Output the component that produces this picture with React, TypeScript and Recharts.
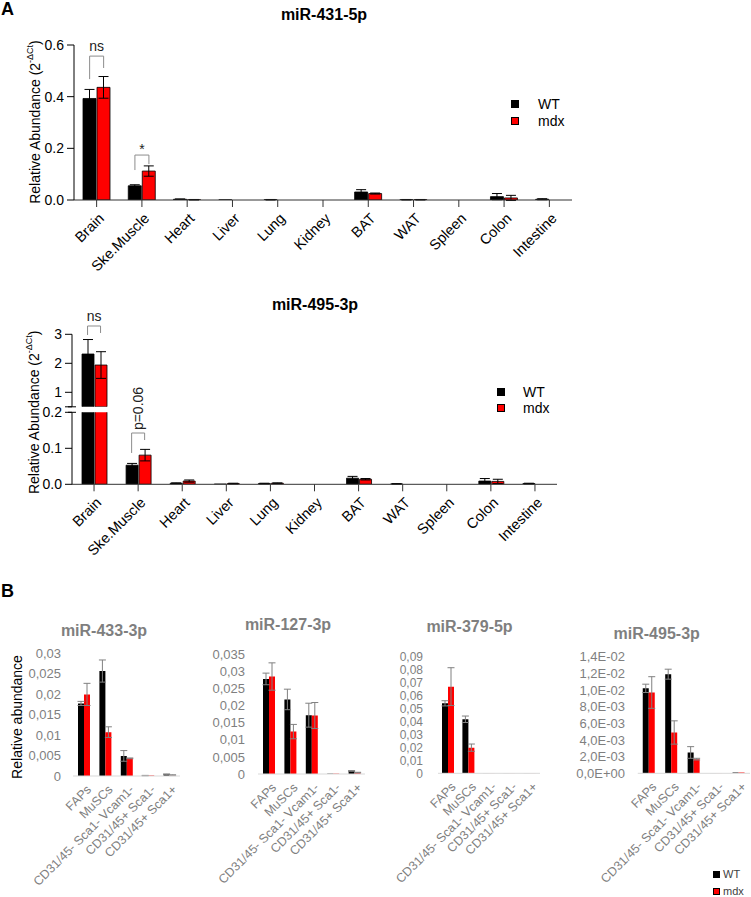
import React from 'react';
import { BarChart, Bar, XAxis, YAxis, ErrorBar, ReferenceLine, Legend } from 'recharts';

const FONT = '"Liberation Sans", Arial, Helvetica, sans-serif';
const RED = '#ff0000';

// ---------- Panel A data ----------
const tissues = ['Brain', 'Ske.Muscle', 'Heart', 'Liver', 'Lung', 'Kidney', 'BAT', 'WAT', 'Spleen', 'Colon', 'Intestine'];

const wt431 = [0.393, 0.055, 0.003, 0.0005, 0.001, 0, 0.031, 0.001, 0, 0.013, 0.003];
const wt431Err = [0.035, 0.004, 0.001, 0, 0.001, 0, 0.009, 0.001, 0, 0.012, 0.002];
const mdx431 = [0.436, 0.112, 0.001, 0, 0, 0, 0.025, 0.001, 0, 0.008, 0];
const mdx431Err = [0.042, 0.02, 0.001, 0, 0, 0, 0.002, 0.001, 0, 0.01, 0];
const ticks431 = [0, 0.2, 0.4, 0.6];

const wt495 = [2.32, 0.053, 0.003, 0.0005, 0.002, 0, 0.017, 0.001, 0, 0.009, 0.002];
const wt495Err = [0.5, 0.005, 0.001, 0, 0.001, 0, 0.005, 0.001, 0, 0.007, 0.001];
const mdx495 = [1.94, 0.081, 0.009, 0.002, 0.003, 0, 0.014, 0, 0, 0.008, 0];
const mdx495Err = [0.46, 0.016, 0.003, 0.001, 0.001, 0, 0.002, 0, 0, 0.006, 0];
const ticks495Upper = [0.5, 1, 2, 3];
const ticks495Lower = [0, 0.1, 0.2];

const sig431 = [
  { at: 0, text: 'ns', left: 0.468, top: 0.557, right: 0.511 },
  { at: 1, text: '*', left: 0.116, top: 0.174, right: 0.139 },
];
const sig495Upper = [{ at: 0, text: 'ns', left: 2.976, top: 3.286, right: 3.045 }];
const sig495Lower = [{ at: 1, text: 'p=0.06', left: 0.087, top: 0.1425, right: 0.123 }];

// ---------- Panel B data ----------
const cellTypes = ['FAPs', 'MuSCs', 'CD31/45- Sca1- Vcam1-', 'CD31/45+ Sca1-', 'CD31/45+ Sca1+'];

const wt433 = [0.0177, 0.0256, 0.0049, 0.0001, 0.0004];
const wt433Err = [0.0005, 0.0027, 0.0013, 0.00005, 0.0001];
const mdx433 = [0.0199, 0.0107, 0.0043, 0.0001, 0.0002];
const mdx433Err = [0.0027, 0.0013, 0.0001, 0, 0.0001];
const ticks433 = [0, 0.005, 0.01, 0.015, 0.02, 0.025, 0.03];

const wt127 = [0.0278, 0.0218, 0.0172, 0.0001, 0.0009];
const wt127Err = [0.0017, 0.003, 0.0035, 0, 0.0001];
const mdx127 = [0.0285, 0.0124, 0.0171, 0.0001, 0.0004];
const mdx127Err = [0.004, 0.0021, 0.0038, 0, 0.0001];
const ticks127 = [0, 0.005, 0.01, 0.015, 0.02, 0.025, 0.03, 0.035];

const wt379 = [0.054, 0.0417, 0.0002, 0.0002, 0.0002];
const wt379Err = [0.002, 0.0025, 0, 0, 0];
const mdx379 = [0.0669, 0.0198, 0.0002, 0.0002, 0.0002];
const mdx379Err = [0.0146, 0.0028, 0, 0, 0];
const ticks379 = [0, 0.01, 0.02, 0.03, 0.04, 0.05, 0.06, 0.07, 0.08, 0.09];

const wtB495 = [0.0102, 0.0119, 0.0025, 0.00005, 0.0001];
const wtB495Err = [0.0005, 0.0006, 0.0007, 0, 0];
const mdxB495 = [0.0097, 0.0049, 0.0017, 0.00005, 0.0001];
const mdxB495Err = [0.0019, 0.0014, 0.0001, 0, 0];
const ticksB495 = [0, 0.002, 0.004, 0.006, 0.008, 0.01, 0.012, 0.014];

const seriesColors: Record<string, string> = { WT: '#000000', mdx: RED };

const makeRows = (cats: string[], wt: number[], wtErr: number[], mdx: number[], mdxErr: number[]) =>
  cats.map((c, i) => ({ cat: c, wt: wt[i], wtErr: wtErr[i], mdx: mdx[i], mdxErr: mdxErr[i] }));

const rows431 = makeRows(tissues, wt431, wt431Err, mdx431, mdx431Err);
const rows495 = makeRows(tissues, wt495, wt495Err, mdx495, mdx495Err);
// the upper segment of the broken axis only shows the bars that reach it
const rows495Upper = rows495.map((r) => ({
  ...r,
  wt: r.wt >= ticks495Upper[0] ? r.wt : null,
  mdx: r.mdx >= ticks495Upper[0] ? r.mdx : null,
}));

// ---------- helpers ----------
const commaFmt = (v: number) => (v === 0 ? '0' : String(v).replace('.', ','));
const expFmt = (v: number) => {
  const [m, e] = v.toExponential(1).split('e');
  const n = parseInt(e, 10);
  return `${m.replace('.', ',')}E${n < 0 ? '-' : '+'}${String(Math.abs(n)).padStart(2, '0')}`;
};

const TissueTick = (p: any) => {
  const x = Number(p.x) + 1;
  const y = Number(p.y) + 3;
  return (
    <g transform={`translate(${x},${y})`}>
      <text x={0} y={0} dy="0.71em" textAnchor="end" transform="rotate(-45)" fontSize={14.5} fill="#000">
        {p.payload.value}
      </text>
    </g>
  );
};

const CellTick = (p: any) => {
  const x = Number(p.x) + 2;
  const y = Number(p.y);
  return (
    <g transform={`translate(${x},${y})`}>
      <text x={0} y={0} dy="0.71em" textAnchor="end" transform="rotate(-45)" fontSize={12.5} fill="#7f7f7f">
        {p.payload.value}
      </text>
    </g>
  );
};

const abundanceLabel = (cx: number, cy: number) => () => (
  <text x={cx} y={cy} transform={`rotate(-90 ${cx} ${cy})`} textAnchor="middle" dominantBaseline="central" fontSize={14} fill="#000">
    Relative Abundance (2<tspan dy={-5} fontSize={9}>-ΔCt</tspan>
    <tspan dy={5}>)</tspan>
  </text>
);

const makeLegend = (o: { sq: number; row: number; gap: number; fontSize: number; color: string }) => (props: any) => (
  <div style={{ fontFamily: FONT }}>
    {(props.payload || []).map((e: any) => (
      <div key={e.value} style={{ display: 'flex', alignItems: 'center', height: o.row }}>
        <span
          style={{
            display: 'inline-block',
            width: o.sq,
            height: o.sq,
            background: seriesColors[e.value] || e.color,
            border: '1px solid #000',
            boxSizing: 'border-box',
          }}
        />
        <span style={{ marginLeft: o.gap, fontSize: o.fontSize, color: o.color, lineHeight: 1 }}>{e.value}</span>
      </div>
    ))}
  </div>
);

const BR = '#8c8c8c';
// significance bracket: anchored to the category through the x scale, shifted by half a bar to each bar's centre
function bracket(b: any, dx: number, key: string, rotatedText: boolean) {
  const cat = tissues[b.at];
  const vShape = (sign: number) => (p: any) => (
    <line x1={p.x1 + sign * dx} x2={p.x2 + sign * dx} y1={p.y1} y2={p.y2} stroke={BR} strokeWidth={1} />
  );
  const hShape = (p: any) => <line x1={p.x1 - dx} x2={p.x2 + dx} y1={p.y1} y2={p.y2} stroke={BR} strokeWidth={1} />;
  const label = rotatedText
    ? {
        content: (props: any) => {
          const vb = props.viewBox || { x: 0, y: 0, width: 0 };
          const cx = vb.x + (vb.width || 0) / 2;
          const cy = vb.y - 24.5;
          return (
            <text x={cx} y={cy} transform={`rotate(-90 ${cx} ${cy})`} textAnchor="middle" dominantBaseline="central" fontSize={14} fill="#222">
              {b.text}
            </text>
          );
        },
      }
    : { value: b.text, position: 'top' as const, offset: b.text === '*' ? 1 : 5, fill: '#222', fontSize: 14 };
  return [
    <ReferenceLine key={key + 'l'} xAxisId="c" segment={[{ x: cat, y: b.left }, { x: cat, y: b.top }]} ifOverflow="visible" shape={vShape(-1)} />,
    <ReferenceLine key={key + 't'} xAxisId="c" segment={[{ x: cat, y: b.top }, { x: cat, y: b.top }]} ifOverflow="visible" shape={hShape} label={label} />,
    <ReferenceLine key={key + 'r'} xAxisId="c" segment={[{ x: cat, y: b.top }, { x: cat, y: b.right }]} ifOverflow="visible" shape={vShape(1)} />,
  ];
}

const Title = ({ text, cx, cy, color, size }: any) => (
  <div
    style={{
      position: 'absolute',
      left: cx - 100,
      top: cy - size * 0.6,
      width: 200,
      textAlign: 'center',
      fontWeight: 'bold',
      fontSize: size,
      lineHeight: `${size * 1.2}px`,
      color,
      whiteSpace: 'nowrap',
    }}
  >
    {text}
  </div>
);

// ---------- Chart A1 ----------
const A1 = { W: 751, H: 290, L: 74, R: 572, T: 45, B: 200, bar: 13, gap: 1 };
function ChartA1() {
  const dx = (A1.bar + A1.gap) / 2;
  return (
    <div style={{ position: 'absolute', left: 0, top: 0 }}>
      <BarChart
        width={A1.W}
        height={A1.H}
        data={rows431}
        margin={{ top: A1.T, right: A1.W - A1.R, bottom: 0, left: 0 }}
        barSize={A1.bar}
        barGap={A1.gap}
      >
        <XAxis xAxisId="c" dataKey="cat" height={A1.H - A1.B} interval={0} tickSize={7} tickMargin={2} stroke="#333" tick={TissueTick} />
        <YAxis
          width={A1.L}
          domain={[0, 0.6]}
          ticks={ticks431}
          interval={0}
          allowDataOverflow
          tickFormatter={(v: number) => v.toFixed(1)}
          tickSize={7}
          tickMargin={3}
          stroke="#000"
          tick={{ fill: '#000', fontSize: 14 }}
          label={{ content: abundanceLabel(35, 122) }}
        />
        <Bar xAxisId="c" dataKey="wt" name="WT" fill="#000" stroke="#000" strokeWidth={0.8} isAnimationActive={false}>
          <ErrorBar dataKey="wtErr" width={5} stroke="#000" strokeWidth={1} />
        </Bar>
        <Bar xAxisId="c" dataKey="mdx" name="mdx" fill={RED} stroke="#000" strokeWidth={0.8} isAnimationActive={false}>
          <ErrorBar dataKey="mdxErr" width={5} stroke="#000" strokeWidth={1} />
        </Bar>
        {sig431.flatMap((b, i) => bracket(b, dx, 's431' + i, false))}
        <Legend
          layout="vertical"
          align="center"
          verticalAlign="middle"
          wrapperStyle={{ left: 511, top: 95.5, width: 'auto' }}
          content={makeLegend({ sq: 8, row: 17, gap: 19, fontSize: 14, color: '#000' })}
        />
      </BarChart>
    </div>
  );
}

// ---------- Chart A2 (broken axis) ----------
const A2 = { W: 751, top: 300, L: 72, R: 557, upT: 334.3, upB: 406.8, loT: 412.3, loB: 484.3, bottom: 590, bar: 12, gap: 1 };
const breakTick = (breakValue: number, showBreakLabel: boolean) => (p: any) => {
  const v = p.payload.value;
  const isBreak = v === breakValue;
  return (
    <g>
      {isBreak ? <line x1={A2.L - 4} x2={A2.L + 4} y1={p.y} y2={p.y} stroke="#000" strokeWidth={1} /> : null}
      {!isBreak || showBreakLabel ? (
        <text x={p.x} y={p.y} textAnchor="end" dominantBaseline="central" fontSize={14} fill="#000">
          {p.tickFormatter ? p.tickFormatter(v) : v}
        </text>
      ) : null}
    </g>
  );
};

function ChartA2() {
  const dx = (A2.bar + A2.gap) / 2;
  const loH = A2.bottom - A2.top;
  const upH = A2.loT - 2 - A2.top;
  return (
    <>
      <div style={{ position: 'absolute', left: 0, top: A2.top }}>
        <BarChart
          width={A2.W}
          height={loH}
          data={rows495}
          margin={{ top: A2.loT - A2.top, right: A2.W - A2.R, bottom: 0, left: 0 }}
          barSize={A2.bar}
          barGap={A2.gap}
        >
          <XAxis xAxisId="c" dataKey="cat" height={A2.bottom - A2.loB} interval={0} tickSize={7} tickMargin={2} stroke="#333" tick={TissueTick} />
          <YAxis
            width={A2.L}
            domain={[0, 0.2]}
            ticks={ticks495Lower}
            interval={0}
            allowDataOverflow
            tickFormatter={(v: number) => v.toFixed(1)}
            tickSize={7}
            tickMargin={3}
            stroke="#000"
            tick={breakTick(0.2, true)}
            label={{ content: abundanceLabel(34, A2.loT - A2.top) }}
          />
          <Bar xAxisId="c" dataKey="wt" name="WT" fill="#000" stroke="#000" strokeWidth={0.8} isAnimationActive={false}>
            <ErrorBar dataKey="wtErr" width={5} stroke="#000" strokeWidth={1} />
          </Bar>
          <Bar xAxisId="c" dataKey="mdx" name="mdx" fill={RED} stroke="#000" strokeWidth={0.8} isAnimationActive={false}>
            <ErrorBar dataKey="mdxErr" width={5} stroke="#000" strokeWidth={1} />
          </Bar>
          {sig495Lower.flatMap((b, i) => bracket(b, dx, 's495l' + i, true))}
          <Legend
            layout="vertical"
            align="center"
            verticalAlign="middle"
            wrapperStyle={{ left: 497, top: 392 - 8 - A2.top, width: 'auto' }}
            content={makeLegend({ sq: 8, row: 16, gap: 18, fontSize: 14, color: '#000' })}
          />
        </BarChart>
      </div>
      <div style={{ position: 'absolute', left: 0, top: A2.top }}>
        <BarChart
          width={A2.W}
          height={upH}
          data={rows495Upper}
          margin={{ top: A2.upT - A2.top, right: A2.W - A2.R, bottom: A2.top + upH - A2.upB, left: 0 }}
          barSize={A2.bar}
          barGap={A2.gap}
        >
          <XAxis xAxisId="c" dataKey="cat" hide />
          <YAxis
            width={A2.L}
            domain={[0.5, 3]}
            ticks={ticks495Upper}
            interval={0}
            allowDataOverflow
            tickFormatter={(v: number) => String(v)}
            tickSize={7}
            tickMargin={3}
            stroke="#000"
            tick={breakTick(0.5, false)}
          />
          <Bar xAxisId="c" dataKey="wt" name="WT" fill="#000" stroke="#000" strokeWidth={0.8} isAnimationActive={false}>
            <ErrorBar dataKey="wtErr" width={5} stroke="#000" strokeWidth={1} />
          </Bar>
          <Bar xAxisId="c" dataKey="mdx" name="mdx" fill={RED} stroke="#000" strokeWidth={0.8} isAnimationActive={false}>
            <ErrorBar dataKey="mdxErr" width={5} stroke="#000" strokeWidth={1} />
          </Bar>
          {sig495Upper.flatMap((b, i) => bracket(b, dx, 's495u' + i, false))}
        </BarChart>
      </div>
    </>
  );
}

// ---------- Panel B ----------
const B_TOP = 600;
const B_BOTTOM = 897;

function CellChart(p: any) {
  const data = makeRows(cellTypes, p.wt, p.wtErr, p.mdx, p.mdxErr);
  return (
    <div style={{ position: 'absolute', left: p.left, top: B_TOP }}>
      <BarChart
        width={p.width}
        height={B_BOTTOM - B_TOP}
        data={data}
        margin={{ top: p.plotT - B_TOP, right: p.left + p.width - p.plotR, bottom: 0, left: 0 }}
        barSize={6}
        barGap={0}
      >
        <XAxis dataKey="cat" height={B_BOTTOM - p.plotB} interval={0} tickLine={false} tickSize={0} tickMargin={8} stroke="#d9d9d9" tick={CellTick} />
        <YAxis
          width={p.plotL - p.left}
          domain={[0, p.ticks[p.ticks.length - 1]]}
          ticks={p.ticks}
          interval={0}
          allowDataOverflow
          tickFormatter={p.fmt}
          axisLine={false}
          tickLine={false}
          tickSize={0}
          tickMargin={p.labelGap}
          tick={{ fill: '#7f7f7f', fontSize: p.fontSize }}
          label={
            p.yLabel
              ? {
                  content: () => (
                    <text x={17} y={117} transform="rotate(-90 17 117)" textAnchor="middle" dominantBaseline="central" fontSize={14} fill="#000">
                      Relative abundance
                    </text>
                  ),
                }
              : undefined
          }
        />
        <Bar dataKey="wt" name="WT" fill="#000" isAnimationActive={false}>
          <ErrorBar dataKey="wtErr" width={3.5} stroke="#808080" strokeWidth={1} />
        </Bar>
        <Bar dataKey="mdx" name="mdx" fill={RED} isAnimationActive={false}>
          <ErrorBar dataKey="mdxErr" width={3.5} stroke="#808080" strokeWidth={1} />
        </Bar>
        {p.legend ? (
          <Legend
            layout="vertical"
            align="center"
            verticalAlign="middle"
            wrapperStyle={{ left: 713 - p.left, top: 875 - 8.35 - B_TOP, width: 'auto' }}
            content={makeLegend({ sq: 7, row: 16.7, gap: 3, fontSize: 11, color: '#404040' })}
          />
        ) : null}
      </BarChart>
    </div>
  );
}

export default function App() {
  return (
    <div
      style={{
        position: 'absolute',
        left: 0,
        top: 0,
        width: 751,
        height: 897,
        background: '#fff',
        fontFamily: FONT,
        overflow: 'hidden',
      }}
    >
      <div style={{ position: 'absolute', left: 1, top: -1, fontSize: 18, fontWeight: 'bold', lineHeight: '20px' }}>A</div>
      <div style={{ position: 'absolute', left: 1, top: 581, fontSize: 18, fontWeight: 'bold', lineHeight: '20px' }}>B</div>

      <ChartA1 />
      <ChartA2 />
      <Title text="miR-431-5p" cx={324} cy={15} color="#000" size={16} />
      <Title text="miR-495-3p" cx={315} cy={305} color="#000" size={16} />

      <CellChart left={0} width={190} plotL={73} plotR={180} plotT={653} plotB={776} wt={wt433} wtErr={wt433Err} mdx={mdx433} mdxErr={mdx433Err} ticks={ticks433} fmt={commaFmt} labelGap={12} fontSize={13} yLabel />
      <CellChart left={185} width={190} plotL={258} plotR={365} plotT={654.3} plotB={774} wt={wt127} wtErr={wt127Err} mdx={mdx127} mdxErr={mdx127Err} ticks={ticks127} fmt={commaFmt} labelGap={13} fontSize={13} />
      <CellChart left={365} width={185} plotL={438} plotR={540} plotT={656.7} plotB={773.3} wt={wt379} wtErr={wt379Err} mdx={mdx379} mdxErr={mdx379Err} ticks={ticks379} fmt={commaFmt} labelGap={15} fontSize={12} />
      <CellChart left={551} width={200} plotL={637.75} plotR={750} plotT={656.7} plotB={773.3} wt={wtB495} wtErr={wtB495Err} mdx={mdxB495} mdxErr={mdxB495Err} ticks={ticksB495} fmt={expFmt} labelGap={12.75} fontSize={13} legend />

      <Title text="miR-433-3p" cx={104} cy={631} color="#7f7f7f" size={16} />
      <Title text="miR-127-3p" cx={288} cy={625} color="#7f7f7f" size={16} />
      <Title text="miR-379-5p" cx={469.5} cy={627} color="#7f7f7f" size={16} />
      <Title text="miR-495-3p" cx={656.7} cy={634} color="#7f7f7f" size={16} />
    </div>
  );
}
